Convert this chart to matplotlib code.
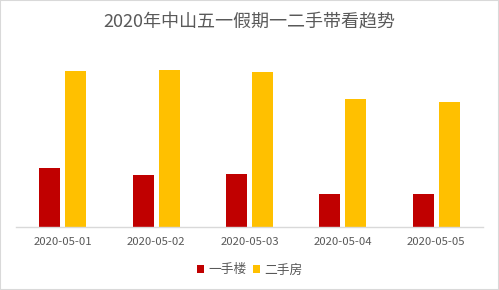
import numpy as np
import matplotlib
matplotlib.use('Agg')
from matplotlib import pyplot as plt
from matplotlib.patches import Rectangle

plt.rcParams['font.family'] = ['Noto Sans CJK SC', 'DejaVu Sans']

dates = ['2020-05-01', '2020-05-02', '2020-05-03', '2020-05-04', '2020-05-05']
series_names = ['一手楼', '二手房']
first_hand = [59, 52, 53, 33, 33]
second_hand = [156, 157, 155, 128, 125]

red = '#C00000'
yellow = '#FFC000'
grey_text = '#595959'

fig = plt.figure(figsize=(4.99, 2.90), dpi=100)
ax = fig.add_axes([16/499, 63/290, 467/499, 177/290])

x = np.arange(len(dates))
w = 0.225
off = 0.139
ax.bar(x - off, first_hand, w, color=red, label=series_names[0])
ax.bar(x + off, second_hand, w, color=yellow, label=series_names[1])

ax.set_xlim(-0.5, len(dates) - 0.5)
ax.set_ylim(0, 177)
ax.set_yticks([])
ax.set_xticks(x)
ax.set_xticklabels(dates, fontsize=8.2, color=grey_text)
ax.tick_params(axis='x', length=0, pad=7)
for s in ['top', 'right', 'left']:
    ax.spines[s].set_visible(False)
ax.spines['bottom'].set_color('#D9D9D9')
ax.spines['bottom'].set_linewidth(1)

fig.text(0.5, 1 - 22/290, '2020年中山五一假期一二手带看趋势', ha='center', va='center',
         fontsize=13, color=grey_text)

leg = fig.legend(loc='center', bbox_to_anchor=(0.5, 1 - 270/290), ncol=2, frameon=False,
                 fontsize=9.2, handlelength=0.6, handleheight=0.6, handletextpad=0.3,
                 columnspacing=0.5, labelcolor=grey_text)

fig.patches.append(Rectangle((0, 0), 1, 1, transform=fig.transFigure, fill=False,
                             edgecolor='#D9D9D9', linewidth=1.5))

fig.savefig('out.png', dpi=100)
